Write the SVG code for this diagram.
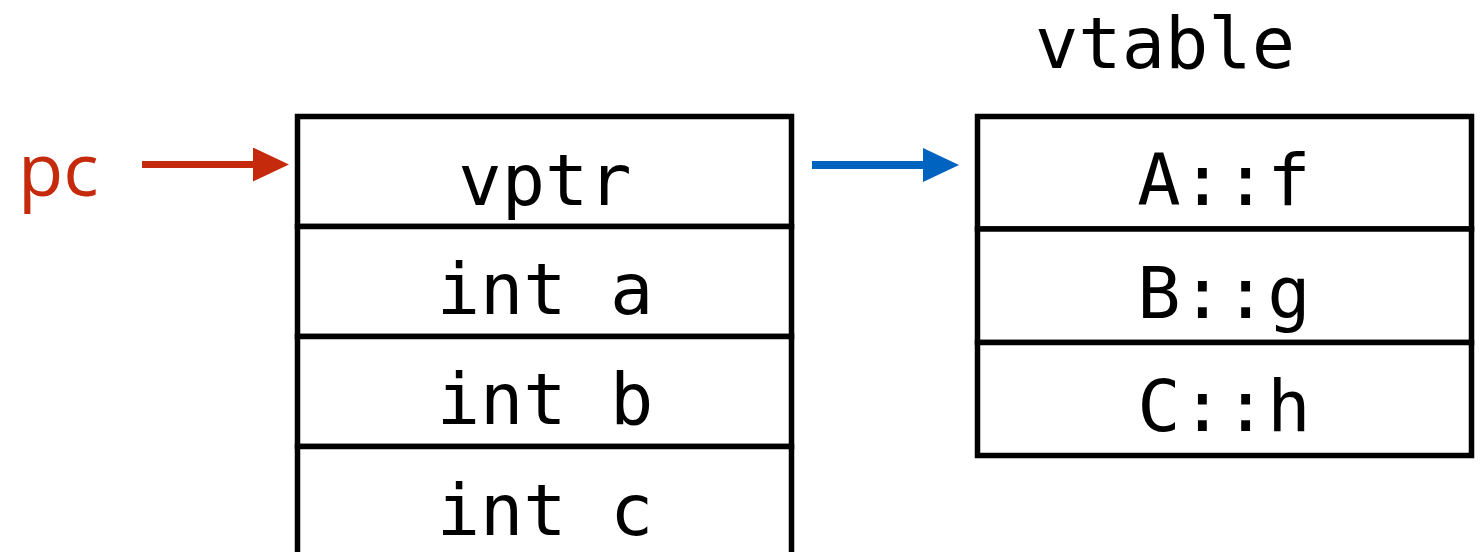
<svg xmlns="http://www.w3.org/2000/svg" width="1483" height="552" viewBox="0 0 1483 552">
  <style>
    .cell { fill: #ffffff; stroke: #000000; stroke-width: 5.5; }
    .mono { font-family: "DejaVu Sans Mono", "Liberation Mono", monospace; font-size: 72px; fill: #000000; text-anchor: middle; }
    .label { font-family: "Open Sans", "Liberation Sans", sans-serif; font-size: 74px; fill: #c62a0c; }
  </style>
  <defs>
    <marker id="headRed" markerUnits="userSpaceOnUse" markerWidth="36" markerHeight="34" refX="0" refY="17" orient="auto">
      <path d="M0,0 L36,17 L0,34 Z" fill="#c62a0c"/>
    </marker>
    <marker id="headBlue" markerUnits="userSpaceOnUse" markerWidth="36" markerHeight="34" refX="0" refY="17" orient="auto">
      <path d="M0,0 L36,17 L0,34 Z" fill="#0063c0"/>
    </marker>
  </defs>

  <!-- pointer label -->
  <g id="pc">
    <text class="label" x="18" y="196">pc</text>
  </g>

  <!-- object layout -->
  <g id="object">
    <rect class="cell" x="297.5" y="116.5" width="494" height="110"/>
    <rect class="cell" x="297.5" y="226.5" width="494" height="110"/>
    <rect class="cell" x="297.5" y="336.5" width="494" height="110"/>
    <rect class="cell" x="297.5" y="446.5" width="494" height="120"/>
    <text class="mono" x="545" y="205">vptr</text>
    <text class="mono" x="545" y="314">int a</text>
    <text class="mono" x="545" y="424">int b</text>
    <text class="mono" x="545" y="535">int c</text>
  </g>

  <!-- virtual function table -->
  <g id="vtable">
    <text class="mono" x="1165" y="68">vtable</text>
    <rect class="cell" x="977.5" y="116.5" width="494" height="112.5"/>
    <rect class="cell" x="977.5" y="229" width="494" height="113.5"/>
    <rect class="cell" x="977.5" y="342.5" width="494" height="113"/>
    <text class="mono" x="1224" y="205">A::f</text>
    <text class="mono" x="1224" y="318">B::g</text>
    <text class="mono" x="1224" y="431">C::h</text>
  </g>

  <!-- connectors -->
  <g id="connectors">
    <line x1="142" y1="164.5" x2="253" y2="164.5" stroke="#c62a0c" stroke-width="7" marker-end="url(#headRed)"/>
    <line x1="812" y1="165" x2="923" y2="165" stroke="#0063c0" stroke-width="8" marker-end="url(#headBlue)"/>
  </g>
</svg>
